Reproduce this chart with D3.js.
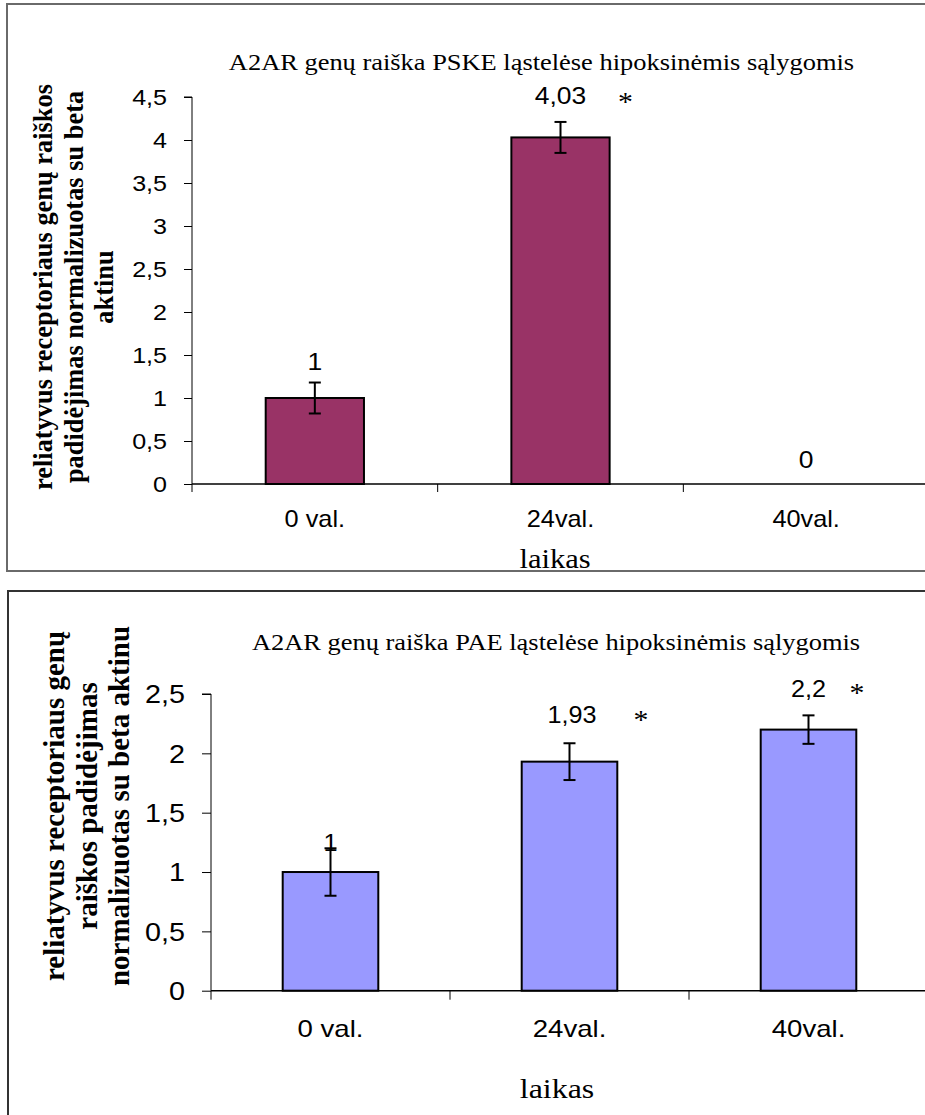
<!DOCTYPE html>
<html><head><meta charset="utf-8">
<script src="https://cdn.jsdelivr.net/npm/d3@7/dist/d3.min.js"></script>
<style>
html,body{margin:0;padding:0;background:#fff;}
svg{display:block;}
</style></head>
<body>
<script>
// ---- data ----
const categories = ["0 val.", "24val.", "40val."];
const pskeValues = [1, 4.03, 0];
const pskeErrors = [0.18, 0.18, 0];
const pskeLabels = ["1", "4,03", "0"];
const pskeStars = [false, true, false];
const pskeTicks = [0, 0.5, 1, 1.5, 2, 2.5, 3, 3.5, 4, 4.5];

const paeValues = [1, 1.93, 2.2];
const paeErrors = [0.2, 0.155, 0.12];
const paeLabels = ["1", "1,93", "2,2"];
const paeStars = [false, true, true];
const paeTicks = [0, 0.5, 1, 1.5, 2, 2.5];

const fmt = v => String(v).replace(".", ",");
const SANS = "Liberation Sans, Arial, sans-serif";
const SERIF = "Liberation Serif, Times New Roman, serif";

const W = 925, H = 1115;
const svg = d3.select("body").append("svg").attr("width", W).attr("height", H);

// text helper with horizontal stretch (the reference text is slightly widened)
function txt(g, x, y, s, st, anchor) {
  return g.append("text")
    .attr("transform", `translate(${x},${y}) scale(${st.sx},1)`)
    .attr("text-anchor", anchor || "middle")
    .attr("font-family", st.family).attr("font-size", st.size)
    .attr("font-weight", st.weight || "normal")
    .attr("fill", "#000").text(s);
}

function drawChart(c) {
  const g = svg.append("g");
  g.append("path").attr("d", c.framePath)
    .attr("fill", "none").attr("stroke", c.frameColor).attr("stroke-width", 2);

  const y = d3.scaleLinear().domain([0, c.yMax]).range([c.y0, c.yTop]);
  const x = d3.scaleBand().domain(categories).range([c.x0, c.x1]).paddingInner(0).paddingOuter(0);
  const bw = x.bandwidth();

  // title
  txt(g, c.titleX, c.titleY, c.title, c.titleStyle);

  // y axis
  const ya = d3.axisLeft(y).tickValues(c.ticks).tickFormat(fmt).tickSize(c.tickLen).tickPadding(c.tickPad);
  const yg = g.append("g").attr("transform", `translate(${c.x0},0)`).call(ya);
  yg.select(".domain").attr("d", `M${-c.tickLen},${c.yTop}H0V${c.y0}`).attr("stroke", "#000").attr("stroke-width", 1);
  yg.selectAll(".tick line").attr("stroke", "#000");
  yg.selectAll(".tick text")
    .attr("x", null).attr("dy", "0.35em")
    .attr("transform", `translate(${-(c.tickLen + c.tickPad)},0) scale(${c.tickStyle.sx},1)`)
    .attr("font-family", c.tickStyle.family).attr("font-size", c.tickStyle.size).attr("fill", "#000");

  // bars
  g.selectAll("rect.bar").data(c.values).join("rect")
    .attr("class", "bar")
    .attr("x", (d, i) => x(categories[i]) + bw * 0.3)
    .attr("width", bw * 0.4)
    .attr("y", d => y(d))
    .attr("height", d => y(0) - y(d))
    .attr("fill", c.fill).attr("stroke", "#000").attr("stroke-width", 2);

  // x axis
  const xa = g.append("g");
  xa.append("line").attr("x1", c.x0).attr("x2", c.x1).attr("y1", c.y0).attr("y2", c.y0)
    .attr("stroke", "#000").attr("stroke-width", 1.5);
  const bounds = categories.map(cat => x(cat)).concat([c.x1]);
  xa.selectAll("line.xt").data(bounds).join("line").attr("class", "xt")
    .attr("x1", d => d).attr("x2", d => d).attr("y1", c.y0).attr("y2", c.y0 + c.tickLen)
    .attr("stroke", "#000").attr("stroke-width", 1);
  categories.forEach(cat => txt(xa, x(cat) + bw / 2, c.catY, cat, c.catStyle));

  // error bars
  c.values.forEach((v, i) => {
    const e = c.errors[i];
    if (!e) return;
    const cx = x(categories[i]) + bw / 2;
    const eg = g.append("g").attr("stroke", "#000").attr("stroke-width", 2);
    eg.append("line").attr("x1", cx).attr("x2", cx).attr("y1", y(v + e)).attr("y2", y(v - e));
    eg.append("line").attr("x1", cx - 6).attr("x2", cx + 6).attr("y1", y(v + e)).attr("y2", y(v + e));
    eg.append("line").attr("x1", cx - 6).attr("x2", cx + 6).attr("y1", y(v - e)).attr("y2", y(v - e));
  });

  // value labels + significance stars
  c.values.forEach((v, i) => {
    const cx = x(categories[i]) + bw / 2;
    const base = y(v) - c.labelDy[i];
    txt(g, cx + c.labelDx[i], base, c.labels[i], c.valStyle);
    if (c.stars[i]) {
      txt(g, cx + c.starDx[i], base + c.starDy[i], "*", c.starStyle);
    }
  });

  // x title
  txt(g, c.xTitleX, c.xTitleY, "laikas", c.xTitleStyle);

  // y title
  const yt = g.append("text")
    .attr("transform", `translate(0,${c.yTitleCY}) rotate(-90)`)
    .attr("text-anchor", "middle")
    .attr("font-family", SERIF).attr("font-weight", "bold").attr("font-size", c.yTitleSize);
  c.yTitleLines.forEach((t, i) => {
    yt.append("tspan").attr("x", 0).attr("y", c.yTitleX[i]).text(t);
  });
}

drawChart({
  framePath: "M925,4H7V571H925",
  frameColor: "#6a6a6a",
  yMax: 4.5, y0: 484, yTop: 97, x0: 192, x1: 929,
  ticks: pskeTicks, tickLen: 8, tickPad: 17,
  tickStyle: {family: SANS, size: 22, sx: 1.14},
  catStyle: {family: SANS, size: 23, sx: 1.1},
  valStyle: {family: SANS, size: 23, sx: 1.15},
  starStyle: {family: SERIF, size: 27, sx: 1.1},
  titleStyle: {family: SERIF, size: 22.6, sx: 1.17},
  xTitleStyle: {family: SERIF, size: 28, sx: 1.09},
  values: pskeValues, errors: pskeErrors, labels: pskeLabels, stars: pskeStars,
  labelDy: [28, 33.4, 16], labelDx: [0, 0, 0], starDx: [0, 65, 0], starDy: [0, 7, 0],
  fill: "#993366",
  title: "A2AR genų raiška PSKE ląstelėse hipoksinėmis sąlygomis",
  titleX: 541.5, titleY: 70,
  catY: 527, xTitleX: 555, xTitleY: 568,
  yTitleCY: 287, yTitleSize: 26.4,
  yTitleLines: ["reliatyvus receptoriaus genų raiškos", "padidėjimas normalizuotas su beta", "aktinu"],
  yTitleX: [52, 83, 113]
});

drawChart({
  framePath: "M925,591H8V1115",
  frameColor: "#333",
  yMax: 2.5, y0: 990.7, yTop: 694, x0: 211, x1: 928,
  ticks: paeTicks, tickLen: 9, tickPad: 17,
  tickStyle: {family: SANS, size: 25, sx: 1.15},
  catStyle: {family: SANS, size: 23, sx: 1.2},
  valStyle: {family: SANS, size: 24, sx: 1.05},
  starStyle: {family: SERIF, size: 27, sx: 1.1},
  titleStyle: {family: SERIF, size: 22.6, sx: 1.17},
  xTitleStyle: {family: SERIF, size: 28, sx: 1.14},
  values: paeValues, errors: paeErrors, labels: paeLabels, stars: paeStars,
  labelDy: [21, 38.6, 32.3], labelDx: [0, 2.5, 0], starDx: [0, 71.5, 48.5], starDy: [0, 6, 5],
  fill: "#9999FF",
  title: "A2AR genų raiška PAE ląstelėse hipoksinėmis sąlygomis",
  titleX: 556, titleY: 650,
  catY: 1037, xTitleX: 557, xTitleY: 1098,
  yTitleCY: 806, yTitleSize: 29,
  yTitleLines: ["reliatyvus receptoriaus genų", "raiškos padidėjimas", "normalizuotas su beta aktinu"],
  yTitleX: [64, 97, 129]
});
</script>
</body></html>
